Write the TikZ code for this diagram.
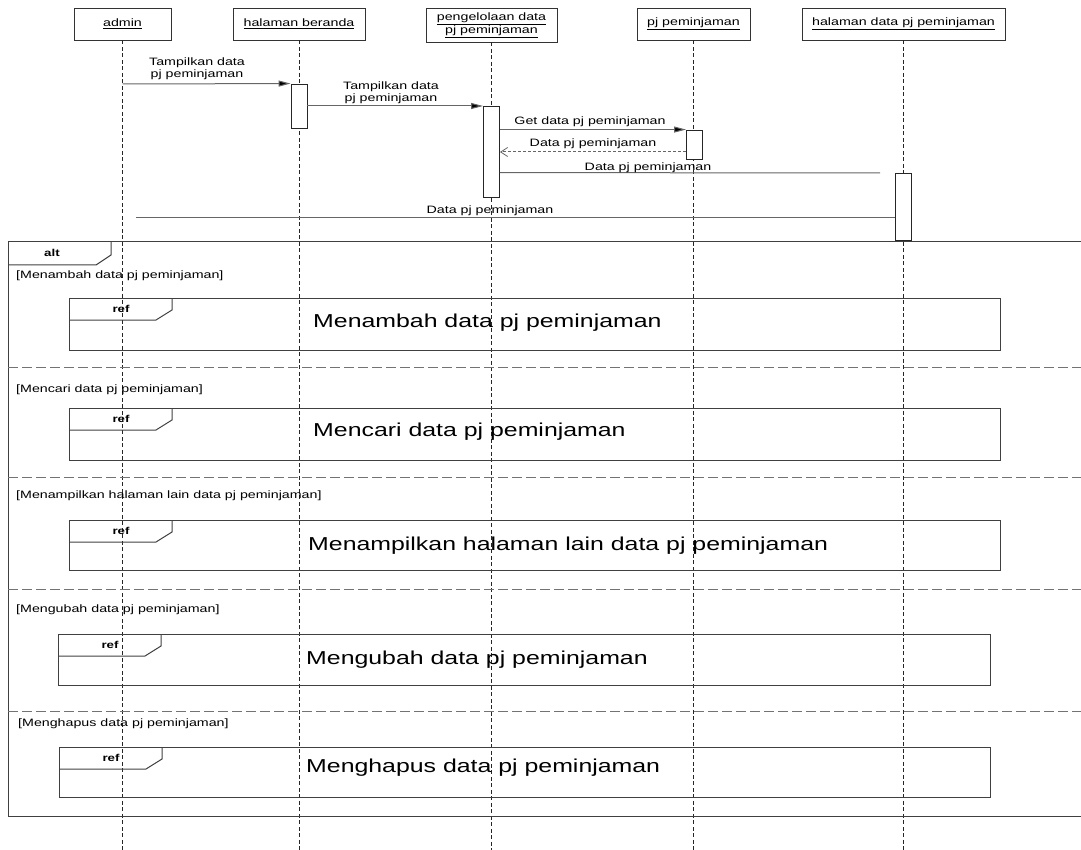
\documentclass[tikz,border=0pt]{standalone}
\usepackage{fontspec}
\setmainfont[FakeStretch=1.33]{Liberation Sans}
\usetikzlibrary{arrows.meta}
\begin{document}
\begin{tikzpicture}[x=1pt,y=-1pt,
  lbl/.style={font=\fontsize{10.7}{11.5}\selectfont, inner sep=0pt, align=center},
  guard/.style={font=\fontsize{10.7}{12}\selectfont, inner sep=0pt, anchor=west},
  tag/.style={font=\bfseries\fontsize{10}{12}\selectfont, inner sep=0pt},
  big/.style={font=\fontsize{18.7}{22}\selectfont, inner sep=0pt, anchor=west},
  head/.style={draw=black!80, line width=0.9pt, fill=white, inner sep=0pt,
    font=\fontsize{10.7}{11.5}\selectfont, align=center},
  lifeline/.style={draw=black!85, line width=1pt, dash pattern=on 4pt off 2.5pt},
  act/.style={draw=black!85, line width=0.9pt, fill=white, minimum width=16pt, inner sep=0pt},
  msg/.style={draw=black!60, line width=1pt},
  call/.style={msg, -{Triangle[length=12pt,width=6pt,fill=black]}},
  reply/.style={msg, dash pattern=on 3pt off 2pt, -{Straight Barb[length=7pt,width=9pt,line width=0.8pt]}},
  frame/.style={draw=black!75, line width=1pt},
  divider/.style={draw=black!55, line width=1pt, dash pattern=on 10pt off 4pt}
]
\useasboundingbox (0,0) rectangle (1081,850);

% participants
\node[head, minimum width=97pt, minimum height=32pt] (pAdmin) at (122.5,24) {\underline{admin}};
\node[head, minimum width=132pt, minimum height=32pt] (pBeranda) at (299,24) {\underline{halaman beranda}};
\node[head, minimum width=131pt, minimum height=34pt] (pKelola) at (491.5,25) {\underline{pengelolaan data}\\\underline{pj peminjaman}};
\node[head, minimum width=113pt, minimum height=32pt] (pPj) at (693.5,24) {\underline{pj peminjaman}};
\node[head, minimum width=203pt, minimum height=32pt] (pHal) at (903.5,24) {\underline{halaman data pj peminjaman}};

% lifelines
\foreach \p in {pAdmin,pBeranda,pKelola,pPj,pHal}
  \draw[lifeline] (\p.south) -- (\p.south |- 0,850);

% activations
\node[act, minimum height=44pt] (aBeranda) at (299,106) {};
\node[act, minimum height=91pt] (aKelola) at (491.5,151.5) {};
\node[act, minimum height=29pt] (aPj) at (694.5,144.5) {};
\node[act, minimum height=67pt] (aHal) at (903.5,206.5) {};

% message end points
\coordinate (m1s) at (122.5,84);
\coordinate (m4s) at (aPj.west |- 0,152);
\coordinate (m4e) at (aKelola.east |- 0,152);
\coordinate (m5e) at (880,173);
\coordinate (m6s) at (aHal.west |- 0,218);
\coordinate (m6e) at (136,218);

% messages
\draw[call] (m1s) -- (aBeranda.north west);
\node[lbl] (l1) at (197,68.5) {Tampilkan data\\pj peminjaman};

\draw[call] (aBeranda.east) -- (aBeranda.east -| aKelola.west);
\node[lbl] (l2) at (391,92.5) {Tampilkan data\\pj peminjaman};

\draw[call] (aKelola.east |- aPj.north) -- (aPj.north west);
\node[lbl] (l3) at (590,122) {Get data pj peminjaman};

\draw[reply] (m4s) -- (m4e);
\node[lbl] (l4) at (593,143.5) {Data pj peminjaman};

\draw[msg] (aKelola.east |- aHal.north) -- (m5e);
\node[lbl] (l5) at (648,168) {Data pj peminjaman};

\draw[msg] (m6s) -- (m6e);
\node[lbl] (l6) at (490,210.5) {Data pj peminjaman};

% alt combined fragment
\draw[frame] (1085,242) -- (8,242) -- (8,816) -- (1085,816);
\draw[frame] (8,265) -- (96,265) -- (111,255) -- (111,242);
\node[tag] (altTag) at (52,253) {alt};

\foreach \yy in {367,477,589,711}
  \draw[divider] (8,\yy) -- (1081,\yy);

\node[guard] (g1) at (16,276) {[Menambah data pj peminjaman]};
\node[guard] (g2) at (16,390) {[Mencari data pj peminjaman]};
\node[guard] (g3) at (16,496) {[Menampilkan halaman lain data pj peminjaman]};
\node[guard] (g4) at (16,610) {[Mengubah data pj peminjaman]};
\node[guard] (g5) at (18,724) {[Menghapus data pj peminjaman]};

% interaction references
\newcommand{\refbox}[5]{%
  % #1 left, #2 top, #3 right, #4 bottom, #5 name
  \draw[frame] (#1,#2) rectangle (#3,#4);
  \draw[frame] (#1,#2+22) -- (#1+87,#2+22) -- (#1+103,#2+12) -- (#1+103,#2);
  \node[tag] (#5) at (#1+52,#2+11) {ref};
}
\refbox{69}{298}{1000}{350}{r1}
\refbox{69}{408}{1000}{460}{r2}
\refbox{69}{520}{1000}{570}{r3}
\refbox{58}{634}{990}{685}{r4}
\refbox{59}{747}{990}{797}{r5}

\node[big] (t1) at (313,323) {Menambah data pj peminjaman};
\node[big] (t2) at (313,432) {Mencari data pj peminjaman};
\node[big] (t3) at (308,546) {Menampilkan halaman lain data pj peminjaman};
\node[big] (t4) at (306,660) {Mengubah data pj peminjaman};
\node[big] (t5) at (306,768) {Menghapus data pj peminjaman};
\end{tikzpicture}
\end{document}
